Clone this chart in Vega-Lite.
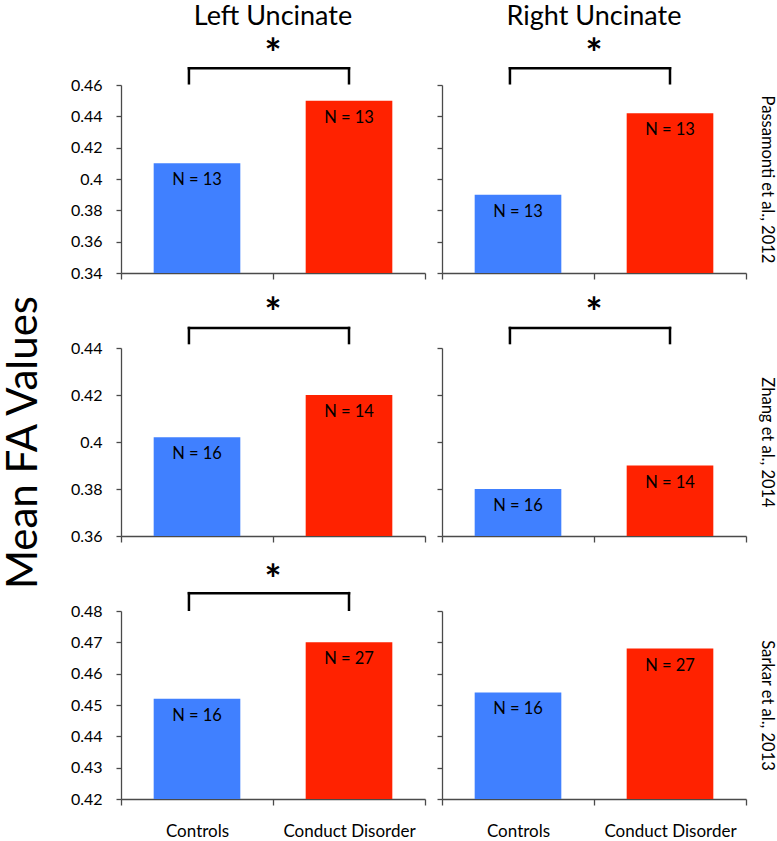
{
  "$schema": "https://vega.github.io/schema/vega-lite/v6.json",
  "padding": {"left": 2, "top": 3, "right": 2, "bottom": 0},
  "bounds": "flush",
  "columns": 2,
  "spacing": {"row": 75, "column": 17},
  "config": {
    "font": "Lato",
    "view": {"stroke": null},
    "axis": {"domainColor": "#4a4a4a", "tickColor": "#4a4a4a", "domainWidth": 1.3, "tickWidth": 1.3, "labelColor": "black", "labelFont": "Lato", "labelFontSize": 16, "grid": false, "title": null},
    "axisY": {"tickSize": 5, "labelPadding": 14, "tickCount": 10},
    "axisX": {"tickSize": 6, "labelAngle": 0, "labelPadding": 18, "labelFontSize": 17, "tickBand": "extent", "labels": false},
    "title": {"fontSize": 27, "fontWeight": "normal", "font": "Lato", "color": "black", "offset": 5},
    "bar": {"width": {"band": 0.57}},
    "rule": {"strokeWidth": 2.5, "color": "black", "strokeCap": "square"}
  },
  "datasets": {
    "bars": [
      {"study": "Passamonti", "tract": "Left", "group": "Controls", "value": 0.41, "label": "N = 13"},
      {"study": "Passamonti", "tract": "Left", "group": "Conduct Disorder", "value": 0.45, "label": "N = 13"},
      {"study": "Passamonti", "tract": "Right", "group": "Controls", "value": 0.39, "label": "N = 13"},
      {"study": "Passamonti", "tract": "Right", "group": "Conduct Disorder", "value": 0.442, "label": "N = 13"},
      {"study": "Zhang", "tract": "Left", "group": "Controls", "value": 0.402, "label": "N = 16"},
      {"study": "Zhang", "tract": "Left", "group": "Conduct Disorder", "value": 0.42, "label": "N = 14"},
      {"study": "Zhang", "tract": "Right", "group": "Controls", "value": 0.38, "label": "N = 16"},
      {"study": "Zhang", "tract": "Right", "group": "Conduct Disorder", "value": 0.39, "label": "N = 14"},
      {"study": "Sarkar", "tract": "Left", "group": "Controls", "value": 0.452, "label": "N = 16"},
      {"study": "Sarkar", "tract": "Left", "group": "Conduct Disorder", "value": 0.47, "label": "N = 27"},
      {"study": "Sarkar", "tract": "Right", "group": "Controls", "value": 0.454, "label": "N = 16"},
      {"study": "Sarkar", "tract": "Right", "group": "Conduct Disorder", "value": 0.468, "label": "N = 27"}
    ]
  },
  "concat": [
    {
      "width": 304, "height": 188,
      "title": "Left Uncinate",
      "data": {"name": "bars"},
      "transform": [{"filter": "datum.study == 'Passamonti' && datum.tract == 'Left'"}],
      "layer": [
        {"mark": "bar", "encoding": {
          "x": {"field": "group", "type": "nominal", "sort": ["Controls", "Conduct Disorder"], "scale": {"paddingInner": 0, "paddingOuter": 0}},
          "y": {"field": "value", "type": "quantitative", "scale": {"domain": [0.34, 0.46], "nice": false, "zero": false}, "axis": {"values": [0.34, 0.36, 0.38, 0.4, 0.42, 0.44, 0.46], "tickCount": 10, "format": "~g"}},
          "y2": {"datum": 0.34},
          "color": {"field": "group", "type": "nominal", "scale": {"domain": ["Controls", "Conduct Disorder"], "range": ["#4080ff", "#ff2200"]}, "legend": null}}},
        {"mark": {"type": "text", "baseline": "alphabetic", "dy": 22, "fontSize": 16.5, "color": "black"}, "encoding": {
          "x": {"field": "group", "type": "nominal", "sort": ["Controls", "Conduct Disorder"]},
          "y": {"field": "value", "type": "quantitative"}, "text": {"field": "label"}}},
        {"data": {"values": [{}]}, "mark": "rule", "encoding": {"x": {"datum": "Controls", "bandPosition": 0.447}, "x2": {"datum": "Conduct Disorder"}, "y": {"datum": 0.4707}}},
        {"data": {"values": [{}]}, "mark": "rule", "encoding": {"x": {"datum": "Controls", "bandPosition": 0.447}, "y": {"datum": 0.4611}, "y2": {"datum": 0.4707}}},
        {"data": {"values": [{}]}, "mark": "rule", "encoding": {"x": {"datum": "Conduct Disorder"}, "y": {"datum": 0.4611}, "y2": {"datum": 0.4707}}},
        {"data": {"values": [{}]}, "mark": {"type": "text", "text": "*", "fontSize": 40, "fontWeight": "bold", "baseline": "middle", "color": "black"}, "encoding": {"x": {"datum": "Conduct Disorder", "bandPosition": 0}, "y": {"datum": 0.4785}}}
      ]
    },
    {
      "width": 304, "height": 188,
      "title": "Right Uncinate",
      "data": {"name": "bars"},
      "transform": [{"filter": "datum.study == 'Passamonti' && datum.tract == 'Right'"}],
      "resolve": {"axis": {"y": "independent"}},
      "layer": [
        {"layer": [
          {"mark": "bar", "encoding": {
            "x": {"field": "group", "type": "nominal", "sort": ["Controls", "Conduct Disorder"], "scale": {"paddingInner": 0, "paddingOuter": 0}},
            "y": {"field": "value", "type": "quantitative", "scale": {"domain": [0.34, 0.46], "nice": false, "zero": false}, "axis": {"values": [0.34, 0.36, 0.38, 0.4, 0.42, 0.44, 0.46], "tickCount": 10, "labels": false}},
            "y2": {"datum": 0.34},
            "color": {"field": "group", "type": "nominal", "scale": {"domain": ["Controls", "Conduct Disorder"], "range": ["#4080ff", "#ff2200"]}, "legend": null}}},
          {"data": {"values": [{}]}, "mark": "rule", "encoding": {"x": {"datum": "Controls", "bandPosition": 0.447}, "x2": {"datum": "Conduct Disorder"}, "y": {"datum": 0.4707}}},
          {"data": {"values": [{}]}, "mark": "rule", "encoding": {"x": {"datum": "Controls", "bandPosition": 0.447}, "y": {"datum": 0.4611}, "y2": {"datum": 0.4707}}},
          {"data": {"values": [{}]}, "mark": "rule", "encoding": {"x": {"datum": "Conduct Disorder"}, "y": {"datum": 0.4611}, "y2": {"datum": 0.4707}}},
          {"data": {"values": [{}]}, "mark": {"type": "text", "text": "*", "fontSize": 40, "fontWeight": "bold", "baseline": "middle", "color": "black"}, "encoding": {"x": {"datum": "Conduct Disorder", "bandPosition": 0}, "y": {"datum": 0.4785}}}
        ]},
        {"mark": {"type": "text", "baseline": "alphabetic", "dy": 22, "fontSize": 16.5, "color": "black"}, "encoding": {
          "x": {"field": "group", "type": "nominal", "sort": ["Controls", "Conduct Disorder"]},
          "y": {"field": "value", "type": "quantitative", "scale": {"domain": [0.34, 0.46], "nice": false, "zero": false}, "axis": {"orient": "right", "title": "Passamonti et al., 2012", "titleFontSize": 16.5, "titleFontWeight": "normal", "titleColor": "black", "titleFont": "Lato", "titlePadding": 12, "domain": false, "ticks": false, "labels": false}},
          "text": {"field": "label"}}}
      ]
    },
    {
      "width": 304, "height": 188,
      "data": {"name": "bars"},
      "transform": [{"filter": "datum.study == 'Zhang' && datum.tract == 'Left'"}],
      "layer": [
        {"mark": "bar", "encoding": {
          "x": {"field": "group", "type": "nominal", "sort": ["Controls", "Conduct Disorder"], "scale": {"paddingInner": 0, "paddingOuter": 0}},
          "y": {"field": "value", "type": "quantitative", "scale": {"domain": [0.36, 0.44], "nice": false, "zero": false}, "axis": {"values": [0.36, 0.38, 0.4, 0.42, 0.44], "tickCount": 10, "format": "~g", "title": "Mean FA Values", "titleFontSize": 42, "titleFontWeight": "normal", "titleFont": "Lato", "titleColor": "black", "titlePadding": 25}},
          "y2": {"datum": 0.36},
          "color": {"field": "group", "type": "nominal", "scale": {"domain": ["Controls", "Conduct Disorder"], "range": ["#4080ff", "#ff2200"]}, "legend": null}}},
        {"mark": {"type": "text", "baseline": "alphabetic", "dy": 22, "fontSize": 16.5, "color": "black"}, "encoding": {
          "x": {"field": "group", "type": "nominal", "sort": ["Controls", "Conduct Disorder"]},
          "y": {"field": "value", "type": "quantitative"}, "text": {"field": "label"}}},
        {"data": {"values": [{}]}, "mark": "rule", "encoding": {"x": {"datum": "Controls", "bandPosition": 0.447}, "x2": {"datum": "Conduct Disorder"}, "y": {"datum": 0.4485}}},
        {"data": {"values": [{}]}, "mark": "rule", "encoding": {"x": {"datum": "Controls", "bandPosition": 0.447}, "y": {"datum": 0.4421}, "y2": {"datum": 0.4485}}},
        {"data": {"values": [{}]}, "mark": "rule", "encoding": {"x": {"datum": "Conduct Disorder"}, "y": {"datum": 0.4421}, "y2": {"datum": 0.4485}}},
        {"data": {"values": [{}]}, "mark": {"type": "text", "text": "*", "fontSize": 40, "fontWeight": "bold", "baseline": "middle", "color": "black"}, "encoding": {"x": {"datum": "Conduct Disorder", "bandPosition": 0}, "y": {"datum": 0.454}}}
      ]
    },
    {
      "width": 304, "height": 188,
      "data": {"name": "bars"},
      "transform": [{"filter": "datum.study == 'Zhang' && datum.tract == 'Right'"}],
      "resolve": {"axis": {"y": "independent"}},
      "layer": [
        {"layer": [
          {"mark": "bar", "encoding": {
            "x": {"field": "group", "type": "nominal", "sort": ["Controls", "Conduct Disorder"], "scale": {"paddingInner": 0, "paddingOuter": 0}},
            "y": {"field": "value", "type": "quantitative", "scale": {"domain": [0.36, 0.44], "nice": false, "zero": false}, "axis": {"values": [0.36, 0.38, 0.4, 0.42, 0.44], "tickCount": 10, "labels": false}},
            "y2": {"datum": 0.36},
            "color": {"field": "group", "type": "nominal", "scale": {"domain": ["Controls", "Conduct Disorder"], "range": ["#4080ff", "#ff2200"]}, "legend": null}}},
          {"data": {"values": [{}]}, "mark": "rule", "encoding": {"x": {"datum": "Controls", "bandPosition": 0.447}, "x2": {"datum": "Conduct Disorder"}, "y": {"datum": 0.4485}}},
          {"data": {"values": [{}]}, "mark": "rule", "encoding": {"x": {"datum": "Controls", "bandPosition": 0.447}, "y": {"datum": 0.4421}, "y2": {"datum": 0.4485}}},
          {"data": {"values": [{}]}, "mark": "rule", "encoding": {"x": {"datum": "Conduct Disorder"}, "y": {"datum": 0.4421}, "y2": {"datum": 0.4485}}},
          {"data": {"values": [{}]}, "mark": {"type": "text", "text": "*", "fontSize": 40, "fontWeight": "bold", "baseline": "middle", "color": "black"}, "encoding": {"x": {"datum": "Conduct Disorder", "bandPosition": 0}, "y": {"datum": 0.454}}}
        ]},
        {"mark": {"type": "text", "baseline": "alphabetic", "dy": 22, "fontSize": 16.5, "color": "black"}, "encoding": {
          "x": {"field": "group", "type": "nominal", "sort": ["Controls", "Conduct Disorder"]},
          "y": {"field": "value", "type": "quantitative", "scale": {"domain": [0.36, 0.44], "nice": false, "zero": false}, "axis": {"orient": "right", "title": "Zhang et al., 2014", "titleFontSize": 16.5, "titleFontWeight": "normal", "titleColor": "black", "titleFont": "Lato", "titlePadding": 12, "domain": false, "ticks": false, "labels": false}},
          "text": {"field": "label"}}}
      ]
    },
    {
      "width": 304, "height": 188,
      "data": {"name": "bars"},
      "transform": [{"filter": "datum.study == 'Sarkar' && datum.tract == 'Left'"}],
      "layer": [
        {"mark": "bar", "encoding": {
          "x": {"field": "group", "type": "nominal", "sort": ["Controls", "Conduct Disorder"], "scale": {"paddingInner": 0, "paddingOuter": 0}, "axis": {"labels": true}},
          "y": {"field": "value", "type": "quantitative", "scale": {"domain": [0.42, 0.48], "nice": false, "zero": false}, "axis": {"values": [0.42, 0.43, 0.44, 0.45, 0.46, 0.47, 0.48], "tickCount": 10, "format": "~g"}},
          "y2": {"datum": 0.42},
          "color": {"field": "group", "type": "nominal", "scale": {"domain": ["Controls", "Conduct Disorder"], "range": ["#4080ff", "#ff2200"]}, "legend": null}}},
        {"mark": {"type": "text", "baseline": "alphabetic", "dy": 22, "fontSize": 16.5, "color": "black"}, "encoding": {
          "x": {"field": "group", "type": "nominal", "sort": ["Controls", "Conduct Disorder"]},
          "y": {"field": "value", "type": "quantitative"}, "text": {"field": "label"}}},
        {"data": {"values": [{}]}, "mark": "rule", "encoding": {"x": {"datum": "Controls", "bandPosition": 0.447}, "x2": {"datum": "Conduct Disorder"}, "y": {"datum": 0.4857}}},
        {"data": {"values": [{}]}, "mark": "rule", "encoding": {"x": {"datum": "Controls", "bandPosition": 0.447}, "y": {"datum": 0.4804}, "y2": {"datum": 0.4857}}},
        {"data": {"values": [{}]}, "mark": "rule", "encoding": {"x": {"datum": "Conduct Disorder"}, "y": {"datum": 0.4804}, "y2": {"datum": 0.4857}}},
        {"data": {"values": [{}]}, "mark": {"type": "text", "text": "*", "fontSize": 40, "fontWeight": "bold", "baseline": "middle", "color": "black"}, "encoding": {"x": {"datum": "Conduct Disorder", "bandPosition": 0}, "y": {"datum": 0.4894}}}
      ]
    },
    {
      "width": 304, "height": 188,
      "data": {"name": "bars"},
      "transform": [{"filter": "datum.study == 'Sarkar' && datum.tract == 'Right'"}],
      "resolve": {"axis": {"y": "independent"}},
      "layer": [
        {"mark": "bar", "encoding": {
          "x": {"field": "group", "type": "nominal", "sort": ["Controls", "Conduct Disorder"], "scale": {"paddingInner": 0, "paddingOuter": 0}, "axis": {"labels": true}},
          "y": {"field": "value", "type": "quantitative", "scale": {"domain": [0.42, 0.48], "nice": false, "zero": false}, "axis": {"values": [0.42, 0.43, 0.44, 0.45, 0.46, 0.47, 0.48], "tickCount": 10, "labels": false}},
          "y2": {"datum": 0.42},
          "color": {"field": "group", "type": "nominal", "scale": {"domain": ["Controls", "Conduct Disorder"], "range": ["#4080ff", "#ff2200"]}, "legend": null}}},
        {"mark": {"type": "text", "baseline": "alphabetic", "dy": 22, "fontSize": 16.5, "color": "black"}, "encoding": {
          "x": {"field": "group", "type": "nominal", "sort": ["Controls", "Conduct Disorder"]},
          "y": {"field": "value", "type": "quantitative", "scale": {"domain": [0.42, 0.48], "nice": false, "zero": false}, "axis": {"orient": "right", "title": "Sarkar et al., 2013", "titleFontSize": 16.5, "titleFontWeight": "normal", "titleColor": "black", "titleFont": "Lato", "titlePadding": 12, "domain": false, "ticks": false, "labels": false}},
          "text": {"field": "label"}}}
      ]
    }
  ]
}
